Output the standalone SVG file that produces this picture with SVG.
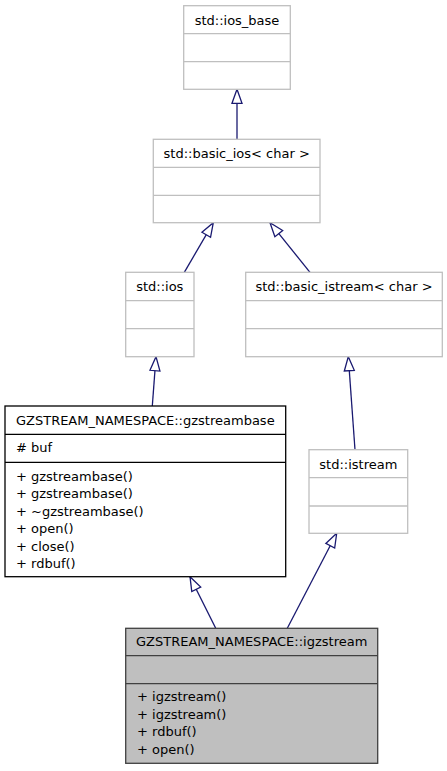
<svg xmlns="http://www.w3.org/2000/svg" width="447" height="771" viewBox="0 0 447 771">
<style>
text{font-family:"DejaVu Sans",sans-serif;font-size:13px;fill:#000}
.c{text-anchor:middle}
.g rect,.g line{stroke:#bfbfbf;stroke-width:1.3;fill:#fff}
.b rect,.b line{stroke:#000;stroke-width:1.3;fill:#fff}
.h rect,.h line{stroke:#404040;stroke-width:1.3;fill:#bfbfbf}
.e line{stroke:#191970;stroke-width:1.3;marker-end:url(#tri)}
</style>
<defs>
<marker id="tri" viewBox="-1 -1 16 12" refX="14" refY="5" markerWidth="16" markerHeight="12" markerUnits="userSpaceOnUse" orient="auto" overflow="visible">
<path d="M0,0 L14,5 L0,10 Z" fill="#fff" stroke="#191970" stroke-width="1.3"/>
</marker>
</defs>
<rect width="447" height="771" fill="#fff"/>
<g id="edges" class="e">
<line x1="237" y1="139.3" x2="237" y2="89.3"/>
<line x1="184.3" y1="272.3" x2="213.3" y2="222.7"/>
<line x1="310" y1="272.3" x2="270" y2="222.7"/>
<line x1="152.3" y1="406" x2="156" y2="356.7"/>
<line x1="355" y1="449.7" x2="348.3" y2="356.7"/>
<line x1="215.7" y1="628.3" x2="190" y2="576.7"/>
<line x1="287.3" y1="628.3" x2="336.7" y2="533.3"/>
</g>
<g id="ios_base" class="g">
<rect x="183.7" y="5.7" width="106.6" height="83.6"/>
<line x1="183.7" y1="33.7" x2="290.3" y2="33.7"/>
<line x1="183.7" y1="61.7" x2="290.3" y2="61.7"/>
<text class="c" x="237" y="24.5">std::ios_base</text>
</g>
<g id="basic_ios" class="g">
<rect x="153.3" y="139.3" width="166.7" height="83.4"/>
<line x1="153.3" y1="167.3" x2="320" y2="167.3"/>
<line x1="153.3" y1="195.3" x2="320" y2="195.3"/>
<text class="c" x="236.7" y="158">std::basic_ios&lt; char &gt;</text>
</g>
<g id="ios" class="g">
<rect x="125.7" y="272.3" width="68.3" height="84.4"/>
<line x1="125.7" y1="300.7" x2="194" y2="300.7"/>
<line x1="125.7" y1="328.7" x2="194" y2="328.7"/>
<text class="c" x="159.8" y="291">std::ios</text>
</g>
<g id="basic_istream" class="g">
<rect x="245.7" y="272.3" width="196.6" height="84.4"/>
<line x1="245.7" y1="300.7" x2="442.3" y2="300.7"/>
<line x1="245.7" y1="328.7" x2="442.3" y2="328.7"/>
<text class="c" x="344" y="291">std::basic_istream&lt; char &gt;</text>
</g>
<g id="gzstreambase" class="b">
<rect x="5" y="406" width="280.7" height="170.7"/>
<line x1="5" y1="434.3" x2="285.7" y2="434.3"/>
<line x1="5" y1="462.3" x2="285.7" y2="462.3"/>
<text class="c" x="145.3" y="425">GZSTREAM_NAMESPACE::gzstreambase</text>
<text x="16" y="452">#  buf</text>
<text x="16" y="480.5">+ gzstreambase()</text>
<text x="16" y="498">+ gzstreambase()</text>
<text x="16" y="515.5">+ ~gzstreambase()</text>
<text x="16" y="533">+ open()</text>
<text x="16" y="550.5">+ close()</text>
<text x="16" y="568">+ rdbuf()</text>
</g>
<g id="istream" class="g">
<rect x="309" y="449.7" width="98.7" height="83.6"/>
<line x1="309" y1="477.7" x2="407.7" y2="477.7"/>
<line x1="309" y1="506" x2="407.7" y2="506"/>
<text class="c" x="358.3" y="468.5">std::istream</text>
</g>
<g id="igzstream" class="h">
<rect x="125.7" y="628.3" width="252" height="135"/>
<line x1="125.7" y1="655.7" x2="377.7" y2="655.7"/>
<line x1="125.7" y1="683.7" x2="377.7" y2="683.7"/>
<text class="c" x="251.7" y="646">GZSTREAM_NAMESPACE::igzstream</text>
<text x="137" y="701">+ igzstream()</text>
<text x="137" y="718.5">+ igzstream()</text>
<text x="137" y="736">+ rdbuf()</text>
<text x="137" y="753.5">+ open()</text>
</g>
</svg>
